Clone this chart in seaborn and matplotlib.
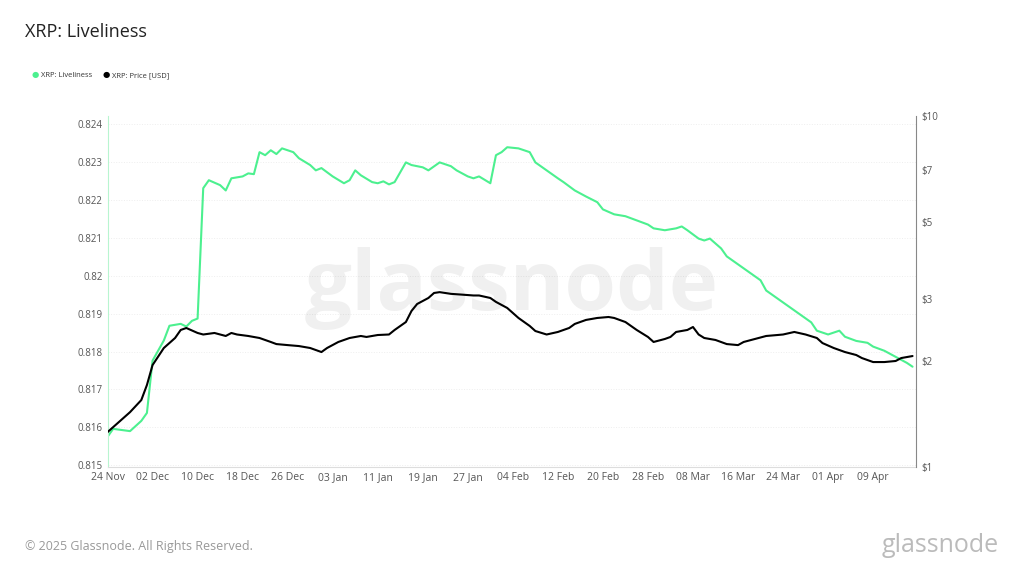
import matplotlib
matplotlib.use("Agg")
import matplotlib.pyplot as plt
import seaborn as sns
import pandas as pd
import numpy as np

live_days = [0,1,4,6,7,8,10,11,13,14,15,16,17,18,20,21,22,24,25,26,27,28,29,30,31,33,34,36,37,38,40,42,43,44,45,47,48,49,50,51,53,54,56,57,59,61,62,64,65,66,68,69,70,71,73,75,76,78,80,81,83,85,87,88,90,92,94,96,97,99,101,102,103,105,106,107,109,110,112,114,116,117,119,121,123,125,126,128,130,131,133,135,136,138,140,142,143]
live_vals = [0.81575,0.81596,0.81590,0.81617,0.81638,0.81776,0.81829,0.81868,0.81873,0.81866,0.81881,0.81887,0.82231,0.82252,0.82239,0.82225,0.82257,0.82262,0.82270,0.82268,0.82326,0.82318,0.82331,0.82321,0.82336,0.82326,0.82310,0.82292,0.82278,0.82284,0.82262,0.82244,0.82252,0.82278,0.82265,0.82247,0.82244,0.82249,0.82241,0.82247,0.82299,0.82292,0.82286,0.82278,0.82299,0.82289,0.82278,0.82262,0.82257,0.82262,0.82244,0.82318,0.82326,0.82339,0.82336,0.82326,0.82299,0.82278,0.82257,0.82247,0.82225,0.82209,0.82194,0.82175,0.82162,0.82157,0.82146,0.82135,0.82125,0.82120,0.82125,0.82130,0.82120,0.82098,0.82093,0.82098,0.82072,0.82051,0.82030,0.82009,0.81988,0.81961,0.81940,0.81919,0.81898,0.81877,0.81855,0.81845,0.81855,0.81839,0.81828,0.81823,0.81813,0.81802,0.81786,0.81770,0.81760]

price_days = [0,2,4,6,7,8,10,12,13,14,16,17,19,21,22,23,25,27,29,30,32,34,36,38,39,41,43,45,46,48,50,51,53,54,55,57,58,59,61,63,65,66,68,69,71,73,75,76,78,80,82,83,85,87,89,90,92,94,96,97,99,100,101,103,104,105,106,108,110,112,113,115,117,119,120,122,124,126,127,129,131,133,134,136,138,140,141,143]
price_vals = [1.258,1.343,1.434,1.552,1.713,1.952,2.183,2.331,2.457,2.489,2.409,2.385,2.409,2.362,2.409,2.385,2.362,2.331,2.271,2.240,2.225,2.211,2.183,2.126,2.183,2.271,2.331,2.362,2.347,2.377,2.385,2.457,2.588,2.783,2.913,3.030,3.131,3.148,3.113,3.097,3.080,3.080,3.030,2.953,2.838,2.658,2.522,2.440,2.385,2.425,2.489,2.556,2.624,2.658,2.675,2.658,2.588,2.457,2.347,2.271,2.316,2.347,2.425,2.457,2.505,2.385,2.331,2.301,2.240,2.225,2.271,2.316,2.362,2.377,2.385,2.425,2.385,2.331,2.255,2.183,2.126,2.085,2.044,1.991,1.991,2.005,2.044,2.071]

start = pd.Timestamp("2024-11-24")
tick_dates = pd.date_range(start, periods=18, freq="8D")
tick_labels = [d.strftime("%d %b") for d in tick_dates]
left_ticks = [0.815,0.816,0.817,0.818,0.819,0.82,0.821,0.822,0.823,0.824]
right_ticks = [1,2,3,5,7,10]

live_df = pd.DataFrame({"date": start + pd.to_timedelta(live_days, unit="D"), "v": live_vals})
price_df = pd.DataFrame({"date": start + pd.to_timedelta(price_days, unit="D"), "v": price_vals})

sns.set_style("white")
plt.rcParams['font.family'] = ['Open Sans', 'DejaVu Sans']
fig = plt.figure(figsize=(10.24,5.76), dpi=100)
ax = fig.add_axes([0.105,0.189,0.79,0.61])
green = "#4cf08f"
sns.lineplot(data=live_df, x="date", y="v", ax=ax, color=green, lw=1.5)
ax.set_ylim(0.81495,0.82422)
ax.set_yticks(left_ticks)
ax.set_yticklabels([f"{t:g}" for t in left_ticks], fontsize=7, color="#555")
ax.grid(axis="y", color="#eeeeee", lw=0.7, ls=":")
ax2 = ax.twinx()
sns.lineplot(data=price_df, x="date", y="v", ax=ax2, color="black", lw=1.5)
ax2.set_yscale("log")
ax2.set_ylim(1,10)
ax2.set_yticks(right_ticks)
ax2.set_yticklabels([f"${t}" for t in right_ticks], fontsize=7, color="#555")
ax2.minorticks_off()
ax.set_xlim(start, start + pd.Timedelta(days=143.7))
ax.set_xticks(tick_dates)
ax.set_xticklabels(tick_labels, fontsize=7.5, color="#555")
for a in (ax, ax2):
    a.set_xlabel(""); a.set_ylabel("")
    a.spines["top"].set_visible(False)
    a.tick_params(length=0)
ax.spines["right"].set_visible(False)
ax.spines["left"].set_color("#b8f5d0")
ax.spines["bottom"].set_color("#dddddd")
ax2.spines["left"].set_visible(False)
ax2.spines["bottom"].set_visible(False)
ax2.spines["right"].set_color("#888888")

fig.text(0.024,0.935,"XRP: Liveliness",fontsize=13,color="#222")
fig.text(0.031,0.869,"●",fontsize=6,color=green,va="center")
fig.text(0.040,0.869,"XRP: Liveliness",fontsize=5.5,color="#333",va="center")
fig.text(0.100,0.869,"●",fontsize=6,color="black",va="center")
fig.text(0.109,0.869,"XRP: Price [USD]",fontsize=5.5,color="#333",va="center")
fig.text(0.024,0.045,"© 2025 Glassnode. All Rights Reserved.",fontsize=9,color="#999")
fig.text(0.975,0.042,"glassnode",fontsize=18,color="#bbb",ha="right")
fig.text(0.5,0.50,"glassnode",fontsize=60,color="#000",alpha=0.06,ha="center",va="center",fontweight="bold")
fig.savefig("out.png", dpi=100)
